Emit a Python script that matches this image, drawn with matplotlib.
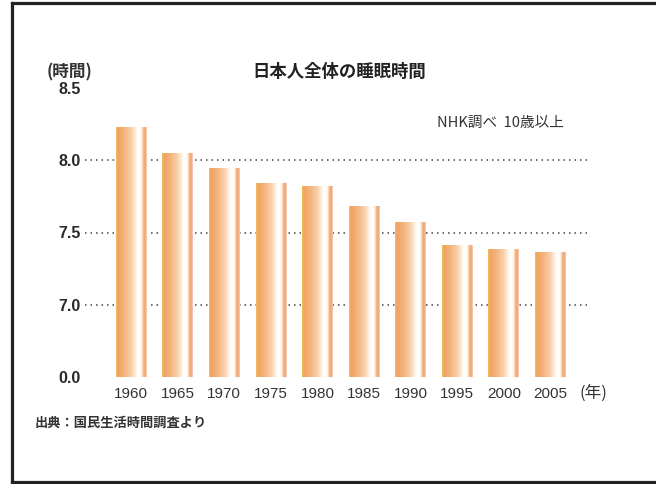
import matplotlib
matplotlib.use("Agg")
import matplotlib.pyplot as plt
import numpy as np
from matplotlib.colors import LinearSegmentedColormap
from matplotlib.lines import Line2D

years = ["1960", "1965", "1970", "1975", "1980", "1985", "1990", "1995", "2000", "2005"]
hours = [8.23, 8.05, 7.94, 7.84, 7.82, 7.68, 7.57, 7.41, 7.38, 7.36]
ytick_vals = [6.5, 7.0, 7.5, 8.0, 8.5]
ytick_labels = ["0.0", "7.0", "7.5", "8.0", "8.5"]
grid_vals = [7.0, 7.5, 8.0]
title = "日本人全体の睡眠時間"
note = "NHK調べ  10歳以上"
yunit = "(時間)"
xunit = "(年)"
source = "出典：国民生活時間調査より"

CJK = ["Noto Sans CJK JP", "DejaVu Sans"]
NUM = ["Liberation Sans", "DejaVu Sans"]

fig = plt.figure(figsize=(6.56, 4.84), dpi=100)
ax = fig.add_axes([85/656, 1-377/484, (590-85)/656, (377-88)/484])

base = 6.5
x = np.arange(len(years))
bw = 0.66
bars = ax.bar(x, [h - base for h in hours], bottom=base, width=bw, color="none", edgecolor="none", zorder=2)

cmap = LinearSegmentedColormap.from_list("bar", [
    (0.00, "#f4c060"),
    (0.06, "#efa362"),
    (0.25, "#f3b27a"),
    (0.50, "#f9d0aa"),
    (0.62, "#fdebd9"),
    (0.70, "#ffffff"),
    (0.82, "#fffaf5"),
    (0.87, "#f7c79a"),
    (0.92, "#f0a76c"),
    (0.97, "#f2b096"),
    (1.00, "#f8d6ce"),
])
grad = np.linspace(0, 1, 256).reshape(1, -1)
for p in bars:
    x0, y0 = p.get_x(), p.get_y()
    ax.imshow(grad, cmap=cmap, aspect="auto", extent=[x0, x0 + p.get_width(), y0, y0 + p.get_height()],
              zorder=2, interpolation="bilinear")

ax.hlines(grid_vals, -0.99, 9.85, colors="#444444", linestyles=(0, (1.0, 2.6)), linewidth=1.1, zorder=1)

ax.set_xlim(-0.99, 9.85)
ax.set_ylim(6.5, 8.5)
for s in ax.spines.values():
    s.set_visible(False)
ax.set_xticks(x)
ax.set_xticklabels(years, family=NUM, fontsize=11, color="#333333")
ax.set_yticks(ytick_vals)
ax.set_yticklabels(ytick_labels, family=NUM, fontsize=11.5, color="#2a2a2a", fontweight="bold")
ax.tick_params(axis="both", length=0)
ax.tick_params(axis="x", pad=7)
ax.tick_params(axis="y", pad=3)

fig.text(339/656, 1-72/484, title, family=CJK, fontsize=12.5, fontweight="bold", ha="center", va="center", color="#222222")
fig.text(69/656, 1-72/484, yunit, family=CJK, fontsize=12, fontweight="bold", ha="center", va="center", color="#333333")
fig.text(500/656, 1-123/484, note, family=CJK, fontsize=10.5, ha="center", va="center", color="#333333")
fig.text(593/656, 1-393/484, xunit, family=CJK, fontsize=12, ha="center", va="center", color="#333333")
fig.text(35/656, 1-423/484, source, family=CJK, fontsize=9.5, fontweight="bold", ha="left", va="center", color="#333333")

lw = 2.3
xl = 12/656
fig.add_artist(Line2D([xl, xl], [1-482/484, 1-3/484], color="#222222", linewidth=lw, transform=fig.transFigure))
fig.add_artist(Line2D([xl, 1], [1-3/484, 1-3/484], color="#222222", linewidth=lw, transform=fig.transFigure))
fig.add_artist(Line2D([xl, 1], [1-482/484, 1-482/484], color="#222222", linewidth=lw, transform=fig.transFigure))

fig.savefig("out.png", dpi=100)
